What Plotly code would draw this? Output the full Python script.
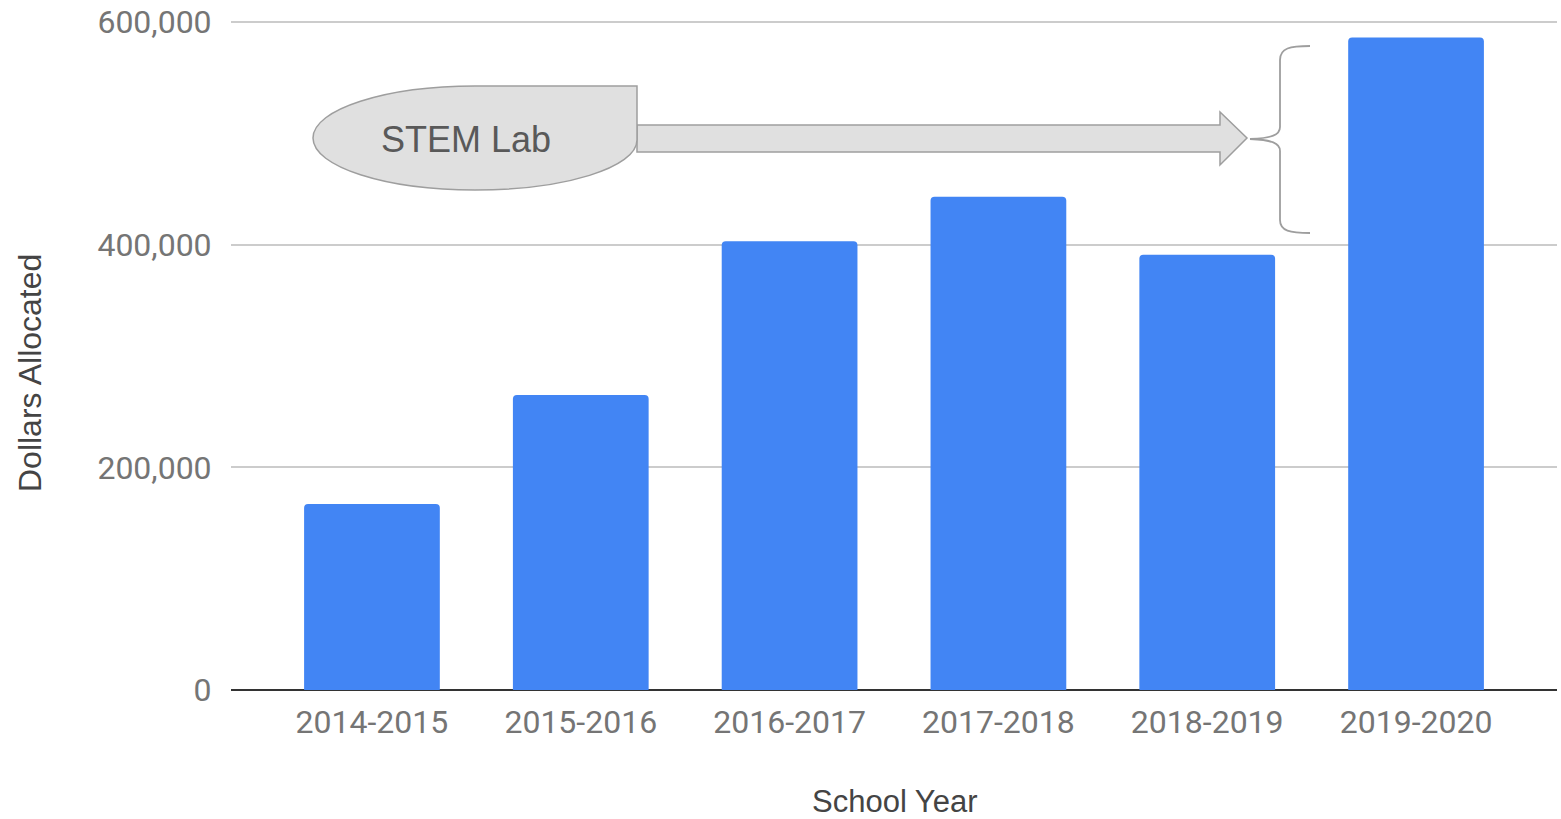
import plotly.graph_objects as go

categories = ["2014-2015", "2015-2016", "2016-2017", "2017-2018", "2018-2019", "2019-2020"]
dollars = [167000, 265000, 403000, 443000, 391000, 586000]
y_ticks = [0, 200000, 400000, 600000]
y_tick_labels = ["0", "200,000", "400,000", "600,000"]

OFF = 0  # page body margin removed via post_script
PAD = 3  # px of headroom above the top gridline
W, H = 1561 - OFF, 819 - OFF
L, R, T = 231 - OFF, 4, 22 - PAD - OFF
B = H - (690 - OFF)
PW = W - L - R
PH = H - T - B
YMAX = 600000 * PH / (PH - PAD)


def X(px):
    return (px - OFF - L) / PW


def Y(py):
    return (H - B - (py - OFF)) / PH


def path(cmds):
    out = []
    for c in cmds:
        if isinstance(c, str):
            out.append(c)
        else:
            out.append(f"{X(c[0]):.5f},{Y(c[1]):.5f}")
    return " ".join(out)


fig = go.Figure()
fig.add_trace(go.Bar(
    x=categories, y=dollars,
    marker=dict(color="#4285F4", cornerradius=4, line=dict(width=0)),
    width=0.65,
))

k = 0.5523
cx, cy, rx, ry = 475, 138, 162, 52
tear = path([
    "M", (cx, cy - ry), "L", (637, cy - ry), "L", (637, cy + 2),
    "C", (637, cy + 2 + (ry - 2) * k), (cx + rx * k, cy + ry), (cx, cy + ry),
    "C", (cx - rx * k, cy + ry), (cx - rx, cy + ry * k), (cx - rx, cy),
    "C", (cx - rx, cy - ry * k), (cx - rx * k, cy - ry), (cx, cy - ry), "Z",
])
arrow = path([
    "M", (637, 125), "L", (1220, 125), "L", (1220, 112), "L", (1247, 138),
    "L", (1220, 165), "L", (1220, 152), "L", (637, 152), "Z",
])
brace = path([
    "M", (1310, 46), "C", (1290, 46), (1280, 48), (1280, 60),
    "L", (1280, 127), "C", (1280, 135), (1272, 138), (1250, 139),
    "C", (1272, 140), (1280, 143), (1280, 151),
    "L", (1280, 220), "C", (1280, 231), (1290, 233), (1310, 233),
])

shapes = [
    dict(type="path", xref="paper", yref="paper", path=arrow,
         fillcolor="#e0e0e0", line=dict(color="#9e9e9e", width=1.5), layer="above"),
    dict(type="path", xref="paper", yref="paper", path=tear,
         fillcolor="#e0e0e0", line=dict(color="#9e9e9e", width=1.5), layer="above"),
    dict(type="path", xref="paper", yref="paper", path=brace,
         line=dict(color="#9e9e9e", width=1.8), layer="above"),
]

annotations = [
    dict(text="STEM Lab", xref="paper", yref="paper", x=X(466), y=Y(139),
         showarrow=False, font=dict(family="Liberation Sans, Arial", size=36, color="#595959"),
         xanchor="center", yanchor="middle"),
    dict(text="School Year", xref="paper", yref="paper", x=X(894), y=Y(801),
         showarrow=False, font=dict(family="Liberation Sans, Arial", size=31, color="#444444"),
         xanchor="center", yanchor="middle", borderpad=0),
    dict(text="Dollars Allocated", xref="paper", yref="paper", x=X(30), y=Y(373),
         showarrow=False, textangle=-90,
         font=dict(family="Liberation Sans, Arial", size=32, color="#444444"),
         xanchor="center", yanchor="middle"),
]

fig.update_layout(
    width=W, height=H,
    margin=dict(l=L, r=R, t=T, b=B, autoexpand=False),
    plot_bgcolor="white", paper_bgcolor="white",
    showlegend=False,
    shapes=shapes,
    annotations=annotations,
    font=dict(family="Roboto", color="#757575"),
)
fig.update_xaxes(
    range=[-0.675, 5.675], showgrid=False, showline=False, zeroline=False,
    ticks="outside", ticklen=4, tickcolor="rgba(0,0,0,0)",
    tickfont=dict(family="Roboto", size=32, color="#757575"),
    fixedrange=True,
)
fig.update_yaxes(
    range=[0, YMAX], tickvals=y_ticks, ticktext=y_tick_labels,
    showgrid=True, gridcolor="#cccccc", gridwidth=2,
    zeroline=True, zerolinecolor="#333333", zerolinewidth=2,
    showline=False,
    ticks="outside", ticklen=12, tickcolor="rgba(0,0,0,0)",
    tickfont=dict(family="Roboto", size=32, color="#757575"),
    ticklabeloverflow="allow",
    fixedrange=True,
)

fig.write_html(
    "out.html",
    config={"displayModeBar": False},
    post_script="document.body.style.margin='0';document.body.style.overflow='hidden';",
)
